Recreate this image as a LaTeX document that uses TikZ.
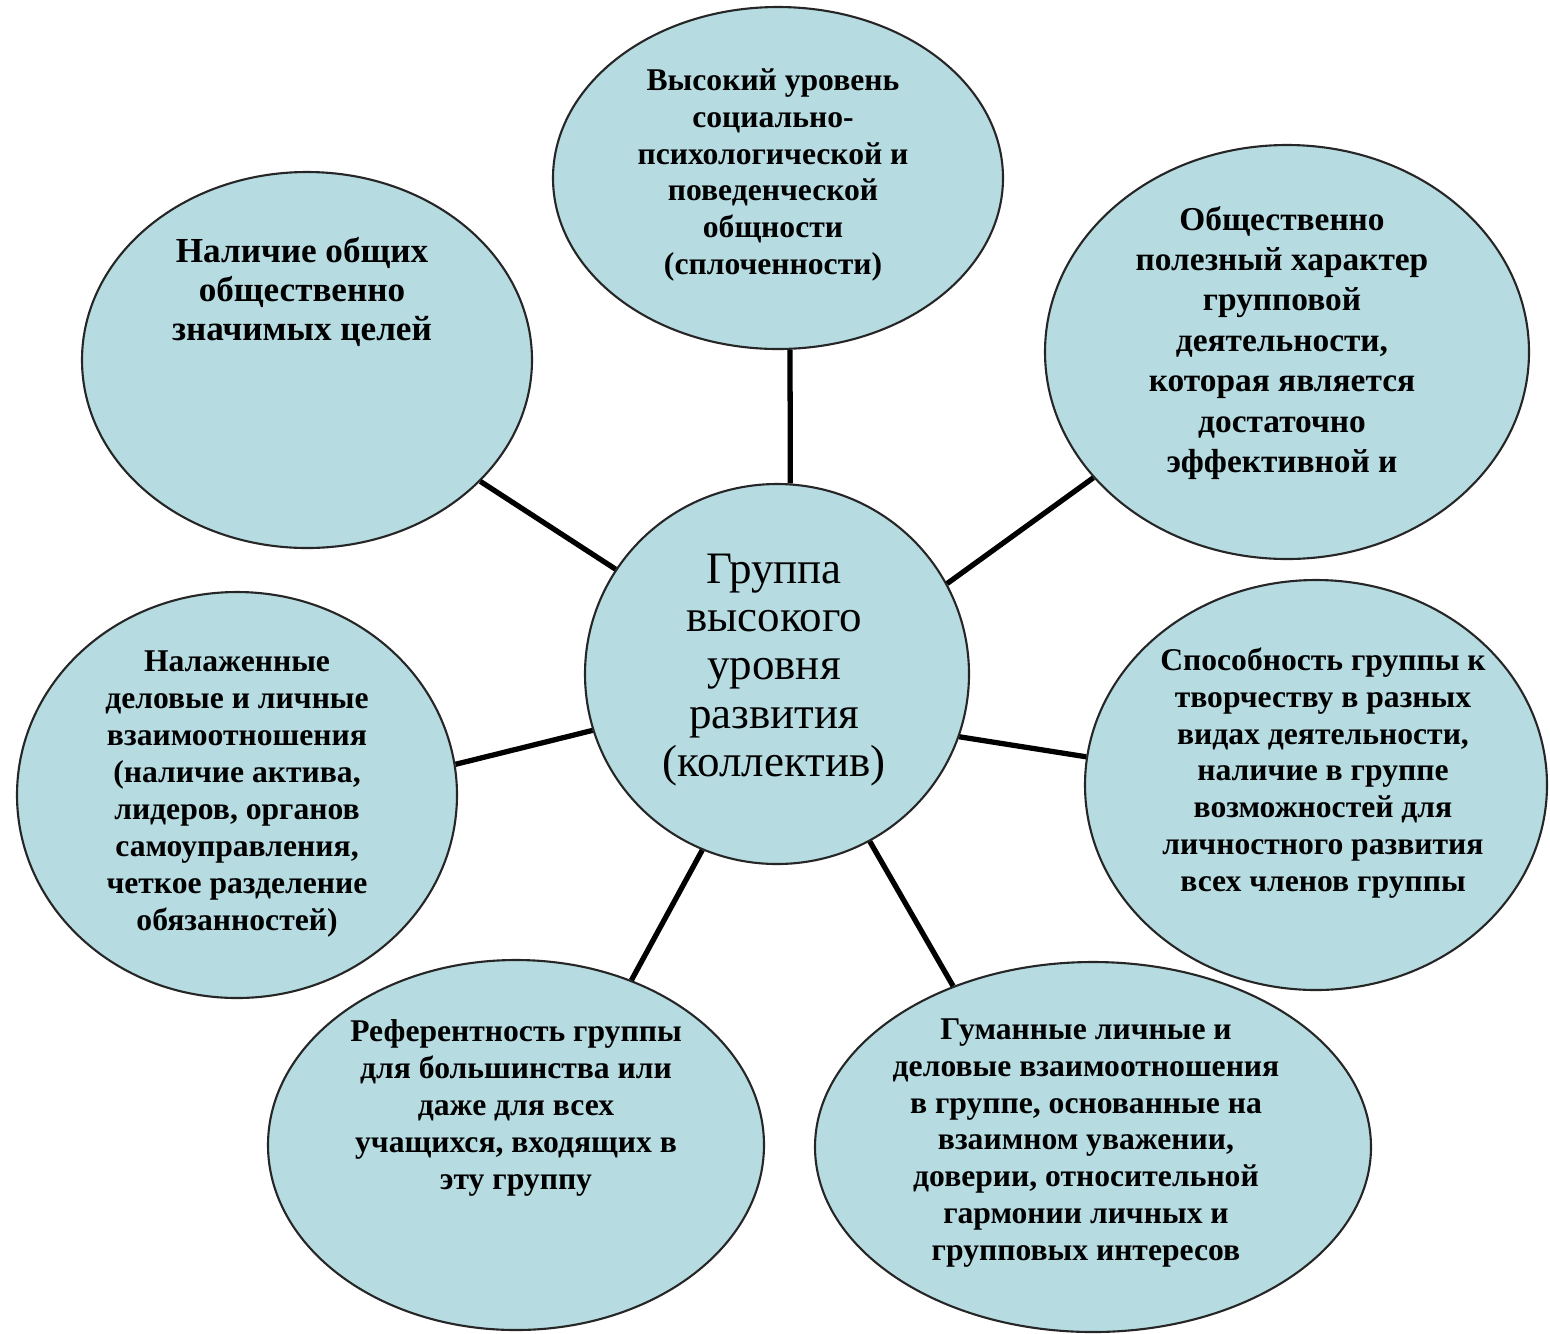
\documentclass[tikz,border=0pt]{standalone}
\usepackage{fontspec}
\setmainfont{Liberation Serif}
\usetikzlibrary{shapes.geometric}
\definecolor{blobfill}{RGB}{182,219,225}

\begin{document}
\begin{tikzpicture}
\tikzstyle{blob}=[ellipse,draw=black!85,line width=0.6pt,fill=blobfill,inner sep=0pt]
\tikzstyle{txt}=[align=center,inner sep=0pt,font=\bfseries\fontsize{9}{10.5}\selectfont]
\tikzstyle{link}=[line width=1.5pt]
    \useasboundingbox (0,0) rectangle (15.5,-13.33);

    % ellipses
    \node (coll) [blob, minimum width=3.84cm, minimum height=3.8cm] at (7.77,-6.74) {};
    \node (cohesion) [blob, minimum width=4.5cm, minimum height=3.42cm] at (7.78,-1.78) {};
    \node (goals) [blob, minimum width=4.5cm, minimum height=3.76cm] at (3.07,-3.6) {};
    \node (useful) [blob, minimum width=4.84cm, minimum height=4.14cm] at (12.87,-3.52) {};
    \node (creative) [blob, minimum width=4.62cm, minimum height=4.1cm] at (13.16,-7.85) {};
    \node (humane) [blob, minimum width=5.56cm, minimum height=3.7cm] at (10.93,-11.47) {};
    \node (refer) [blob, minimum width=4.96cm, minimum height=3.7cm] at (5.16,-11.45) {};
    \node (relations) [blob, minimum width=4.4cm, minimum height=4.06cm] at (2.37,-7.95) {};

    % texts
    \node (coll-t) [txt, font=\fontsize{12.8}{13.7}\selectfont] at (7.74,-6.7) {Группа\\высокого\\уровня\\развития\\(коллектив)};
    \node (cohesion-t) [txt] at (7.73,-1.75) {Высокий уровень\\социально-\\психологической и\\поведенческой\\общности\\(сплоченности)};
    \node (goals-t) [txt, font=\bfseries\fontsize{10}{11}\selectfont] at (3.02,-2.92) {Наличие общих\\общественно\\значимых целей};
    \node (useful-t) [txt, font=\bfseries\fontsize{9.5}{11.5}\selectfont] at (12.82,-3.43) {Общественно\\полезный характер\\групповой\\деятельности,\\которая является\\достаточно\\эффективной и};
    \node (creative-t) [txt] at (13.23,-7.73) {Способность группы к\\творчеству в разных\\видах деятельности,\\наличие в группе\\возможностей для\\личностного развития\\всех членов группы};
    \node (humane-t) [txt] at (10.86,-11.43) {Гуманные личные и\\деловые взаимоотношения\\в группе, основанные на\\взаимном уважении,\\доверии, относительной\\гармонии личных и\\групповых интересов};
    \node (refer-t) [txt] at (5.16,-11.08) {Референтность группы\\для большинства или\\даже для всех\\учащихся, входящих в\\эту группу};
    \node (relations-t) [txt] at (2.37,-7.94) {Налаженные\\деловые и личные\\взаимоотношения\\(наличие актива,\\лидеров, органов\\самоуправления,\\четкое разделение\\обязанностей)};

    \draw[link] (coll.86) -- (cohesion.274);
    \draw[link] (coll.147.6) -- (goals.325.1);
    \draw[link] (coll.28.4) -- (useful.213.8);
    \draw[link] (coll.197.7) -- (relations.8.6);
    \draw[link] (coll.341.6) -- (creative.173.3);
    \draw[link] (coll.247) -- (refer.55.6);
    \draw[link] (coll.299) -- (humane.131.9);
\end{tikzpicture}
\end{document}
